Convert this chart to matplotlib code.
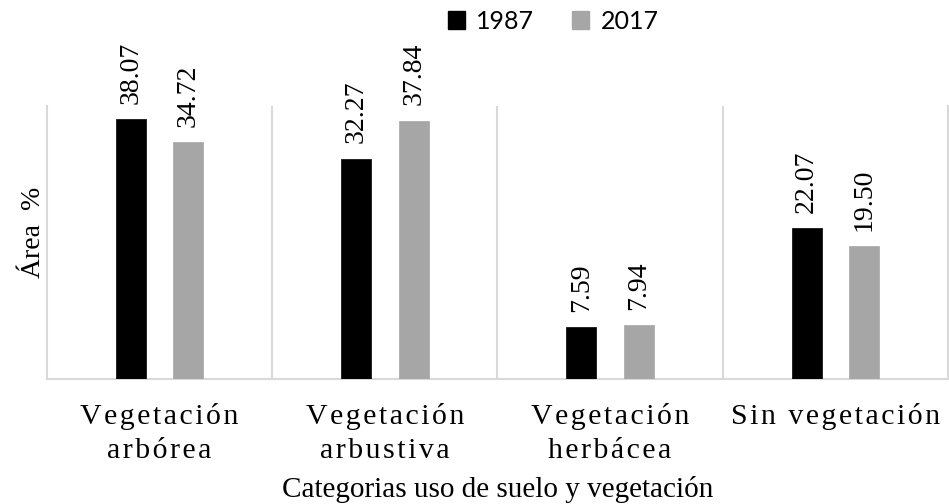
import matplotlib
matplotlib.use("Agg")
import matplotlib.pyplot as plt
import matplotlib.patches as mpatches
import numpy as np

categories = ["Vegetación\narbórea", "Vegetación\narbustiva", "Vegetación\nherbácea", "Sin vegetación"]
years = ["1987", "2017"]
vals_1987 = [38.07, 32.27, 7.59, 22.07]
vals_2017 = [34.72, 37.84, 7.94, 19.50]

serif = ["Liberation Serif", "DejaVu Serif"]
sans = ["Lato", "DejaVu Sans"]
grid_col = "#D9D9D9"
colors = ["#000000", "#A6A6A6"]


def spaced(s):
    # imitate the letter spacing of the original labels with hair spaces
    return "\n".join("\u200a".join(line) for line in s.split("\n"))


fig = plt.figure(figsize=(9.49, 5.04), dpi=100)
ax = fig.add_axes([47 / 949, (504 - 379) / 504, (948 - 47) / 949, (379 - 106) / 504])

x = np.arange(len(categories))
w = 0.133
off = 0.128
for i, (vals, col) in enumerate(zip([vals_1987, vals_2017], colors)):
    pos = x + (-off if i == 0 else off)
    ax.bar(pos, vals, width=w, color=col, edgecolor=col, linewidth=0.5, zorder=3)
    for p, v in zip(pos, vals):
        ax.annotate(f"{v:.2f}", (p, v), xytext=(0, 11), textcoords="offset points",
                    rotation=90, ha="center", va="bottom", fontsize=20, family=serif)

ax.set_xlim(-0.5, len(categories) - 0.5)
ax.set_ylim(0, 40)
ax.set_yticks([])
for sep in x[:-1] + 0.5:
    ax.axvline(sep, color=grid_col, lw=1.5, zorder=1)

for s in ["left", "right", "bottom"]:
    ax.spines[s].set_color(grid_col)
    ax.spines[s].set_linewidth(1.5)
ax.spines["top"].set_visible(False)

ax.set_xticks(x, [spaced(c) for c in categories])
ax.tick_params(axis="x", length=0, pad=17)
for lab in ax.get_xticklabels():
    lab.set_fontsize(21.5)
    lab.set_family(serif)
    lab.set_linespacing(1.4)

ax.set_xlabel("Categorias uso de suelo y vegetación", fontsize=21, family=serif, labelpad=9)
ax.set_ylabel("Área  %", fontsize=20, family=serif)
ax.yaxis.set_label_coords(-0.001, 0.538)

handles = [mpatches.Patch(color=c, label=y) for c, y in zip(colors, years)]
fig.legend(handles=handles, loc="upper center", bbox_to_anchor=(553 / 949, 1.025), ncol=2,
           frameon=False, prop={"family": sans, "size": 18}, handlelength=0.7,
           handleheight=0.75, handletextpad=0.45, columnspacing=1.5)

fig.savefig("out.png", dpi=100)
